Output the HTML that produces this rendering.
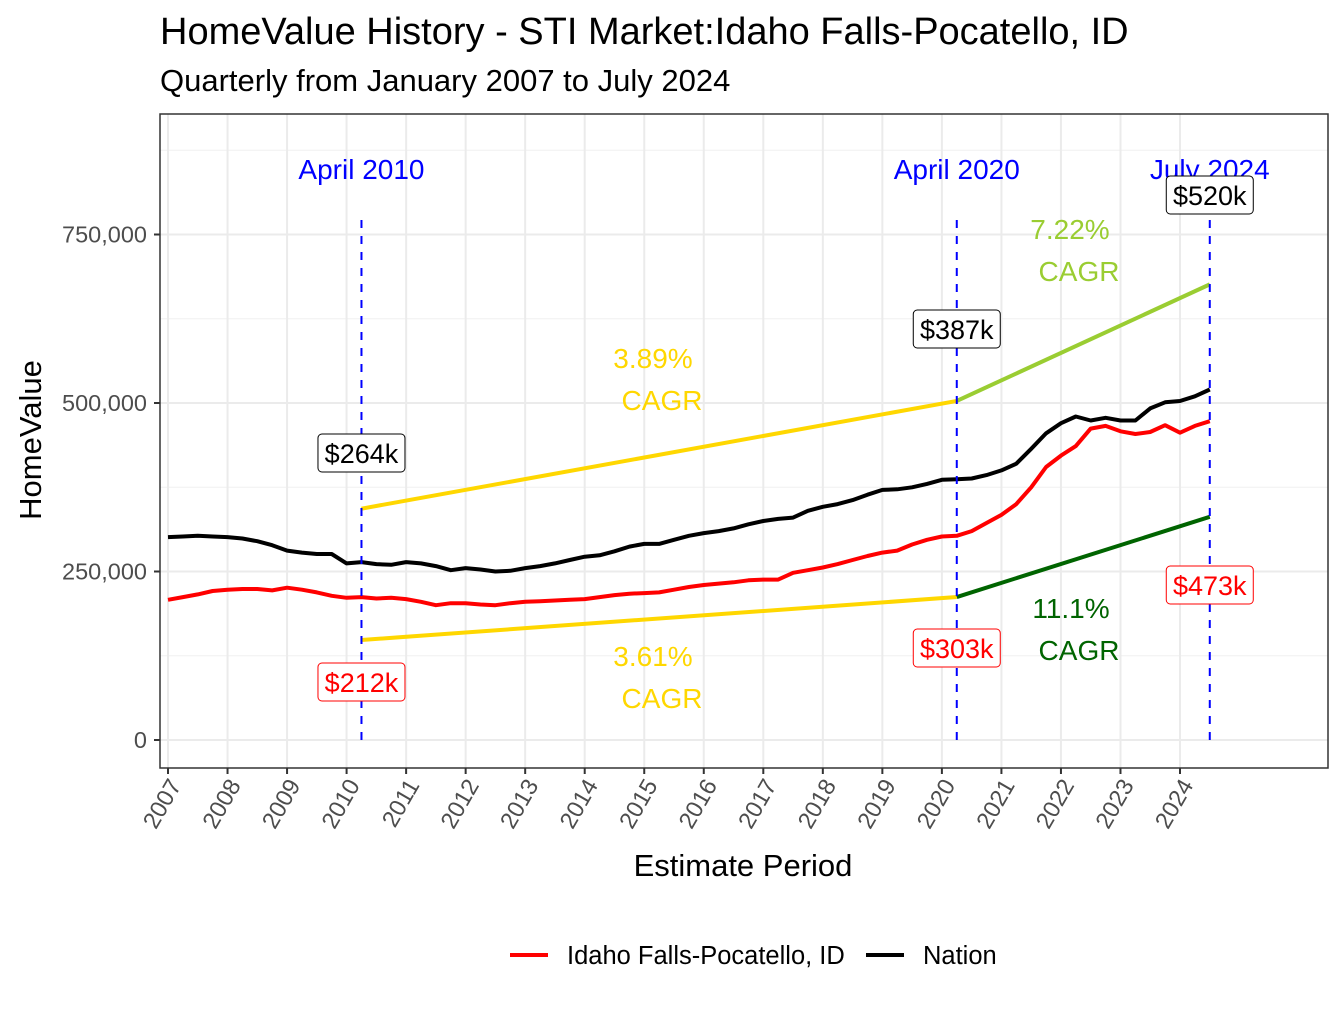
<!DOCTYPE html>
<html><head><meta charset="utf-8"><style>
body{margin:0;background:#fff}
svg text{font-family:"Liberation Sans",Arial,sans-serif}
</style></head><body>
<svg id="chart" width="1344" height="1008" xmlns="http://www.w3.org/2000/svg">
<text x="160" y="44" font-size="38" fill="#000">HomeValue History - STI Market:Idaho Falls-Pocatello, ID</text>
<text x="160" y="91" font-size="31" fill="#000">Quarterly from January 2007 to July 2024</text>
<g id="plot"></g>
<text x="743" y="876" font-size="31" text-anchor="middle">Estimate Period</text>
<text transform="translate(41,440) rotate(-90)" font-size="31" text-anchor="middle">HomeValue</text>
<g>
<line x1="510" y1="955" x2="548" y2="955" stroke="#ff0000" stroke-width="4"/>
<text x="567" y="964" font-size="25.5">Idaho Falls-Pocatello, ID</text>
<line x1="866" y1="955" x2="904" y2="955" stroke="#000" stroke-width="4"/>
<text x="923" y="964" font-size="25.5">Nation</text>
</g>
</svg>
<script>
const years=[2007,2008,2009,2010,2011,2012,2013,2014,2015,2016,2017,2018,2019,2020,2021,2022,2023,2024];
const yTicks=[0,250000,500000,750000];
const yTickLabels=["0","250,000","500,000","750,000"];
const nation=[301,302,303,302, 301,299,295,289, 281,278,276,276, 262,264,261,260, 264,262,258,252, 255,253,250,251, 255,258,262,267, 272,274,280,287, 291,291,297,303, 307,310,314,320, 325,328,330,340, 346,350,356,364, 371,372,375,380, 386,387,388,393, 400,410,432,455, 470,480,474,478, 474,474,492,501, 503,510,520];
const idaho=[208,212,216,221, 223,224,224,222, 226,223,219,214, 211,212,210,211, 209,205,200,203, 203,201,200,203, 205,206,207,208, 209,212,215,217, 218,219,223,227, 230,232,234,237, 238,238,248,252, 256,261,267,273, 278,281,290,297, 302,303,310,322, 334,350,375,405, 422,436,462,466, 458,454,457,467, 456,466,473];
const marks=[{t:2010.25,label:"April 2010",i:13},{t:2020.25,label:"April 2020",i:53},{t:2024.5,label:"July 2024",i:70}];
const cagrNation=["3.89%","7.22%"];
const cagrIdaho=["3.61%","11.1%"];
const upperMult=1.3, lowerMult=0.7;

const NS="http://www.w3.org/2000/svg";
const L=160,R=1328,T=114,B=768;
const xs=t=>168+(t-2007)*59.53;
const ys=v=>740-v*0.000674;
const plot=document.getElementById('plot');
function el(tag,attrs,parent){const e=document.createElementNS(NS,tag);for(const k in attrs)e.setAttribute(k,attrs[k]);(parent||plot).appendChild(e);return e;}
const qt=i=>2007+i*0.25;

const bg=el('rect',{x:L,y:T,width:R-L,height:B-T,fill:'#fff'});


for(let v=125000;v<930000;v+=250000){const g=el('line',{x1:L,x2:R,y1:ys(v),y2:ys(v),stroke:'#f0f0f0','stroke-width':1});

}
for(const v of yTicks){const g=el('line',{x1:L,x2:R,y1:ys(v),y2:ys(v),stroke:'#ebebeb','stroke-width':2});

}
for(const yr of years){const g=el('line',{x1:xs(yr),x2:xs(yr),y1:T,y2:B,stroke:'#ebebeb','stroke-width':2});

}

function series(arr,color,name){
  const d=arr.map((v,i)=>(i?'L':'M')+xs(qt(i)).toFixed(1)+','+ys(v*1000).toFixed(1)).join(' ');
  const p=el('path',{d:d,fill:'none',stroke:color,'stroke-width':4,'stroke-linejoin':'round'});
  
  
}
series(idaho,'#ff0000','idaho-line');
series(nation,'#000000','nation-line');

function seg(i0,i1,v0,v1,color,name){
  const s=el('line',{x1:xs(qt(i0)),y1:ys(v0*1000),x2:xs(qt(i1)),y2:ys(v1*1000),stroke:color,'stroke-width':4});
  
  
}
const a=marks[0].i,b=marks[1].i,c=marks[2].i;
seg(a,b,nation[a]*upperMult,nation[b]*upperMult,'#ffd700','cagr-line-nation-2010-2020');
seg(b,c,nation[b]*upperMult,nation[c]*upperMult,'#9acd32','cagr-line-nation-2020-2024');
seg(a,b,idaho[a]*lowerMult,idaho[b]*lowerMult,'#ffd700','cagr-line-idaho-2010-2020');
seg(b,c,idaho[b]*lowerMult,idaho[c]*lowerMult,'#006400','cagr-line-idaho-2020-2024');

function txt(x,y,s,size,color,name,anchor){
  const t=el('text',{x:x,y:y,'font-size':size,fill:color,'text-anchor':anchor||'middle'});
  t.textContent=s;
  
  
  return t;
}
function box(cx,cy,s,color,name){
  const w=s.length*15+12,h=38;
  const r=el('rect',{x:cx-w/2,y:cy-h/2,width:w,height:h,rx:4,fill:'#fff',stroke:color,'stroke-width':1});
  
  
  txt(cx,cy+10,s,27,color,name);
}
marks.forEach((m,k)=>{
  const x=xs(m.t);
  const v=el('line',{x1:x,x2:x,y1:220,y2:740,stroke:'#0000ff','stroke-width':2,'stroke-dasharray':'8,8'});
  
  
  txt(x,179,m.label,28,'#0000ff','period-label-'+k);
});
[[nation,'#000','nation'],[idaho,'#ff0000','idaho']].forEach(([arr,col,nm])=>{
  marks.forEach((m,k)=>{
    const v=arr[m.i];
    const y = nm==='nation' ? [453,329,195][k] : [682,648,585][k];
    box(xs(m.t),y,'$'+v+'k',col,'value-label-'+nm+'-'+k);
  });
});
txt(653,368,cagrNation[0],28,'#ffd700','cagr-pct-nation-1');
txt(662,410,'CAGR',28,'#ffd700','cagr-text-nation-1');
txt(1070,239,cagrNation[1],28,'#9acd32','cagr-pct-nation-2');
txt(1079,281,'CAGR',28,'#9acd32','cagr-text-nation-2');
txt(653,666,cagrIdaho[0],28,'#ffd700','cagr-pct-idaho-1');
txt(662,708,'CAGR',28,'#ffd700','cagr-text-idaho-1');
txt(1071,618,cagrIdaho[1],28,'#006400','cagr-pct-idaho-2');
txt(1079,660,'CAGR',28,'#006400','cagr-text-idaho-2');

const fr=el('rect',{x:L,y:T,width:R-L,height:B-T,fill:'none',stroke:'#333','stroke-width':1.5});


yTicks.forEach((v,k)=>{
  const tk=el('line',{x1:L-6,x2:L,y1:ys(v),y2:ys(v),stroke:'#333','stroke-width':2});
  
  
  txt(L-13,ys(v)+8,yTickLabels[k],23.5,'#4d4d4d','y-tick-label','end');
});
years.forEach(yr=>{
  const x=xs(yr);
  const tk=el('line',{x1:x,x2:x,y1:B,y2:B+6,stroke:'#333','stroke-width':2});
  
  
  const t=txt(0,0,String(yr),23.5,'#4d4d4d','x-tick-label','end');
  t.setAttribute('transform','translate('+(x+14)+',785) rotate(-60)');
});
</script>
</body></html>
